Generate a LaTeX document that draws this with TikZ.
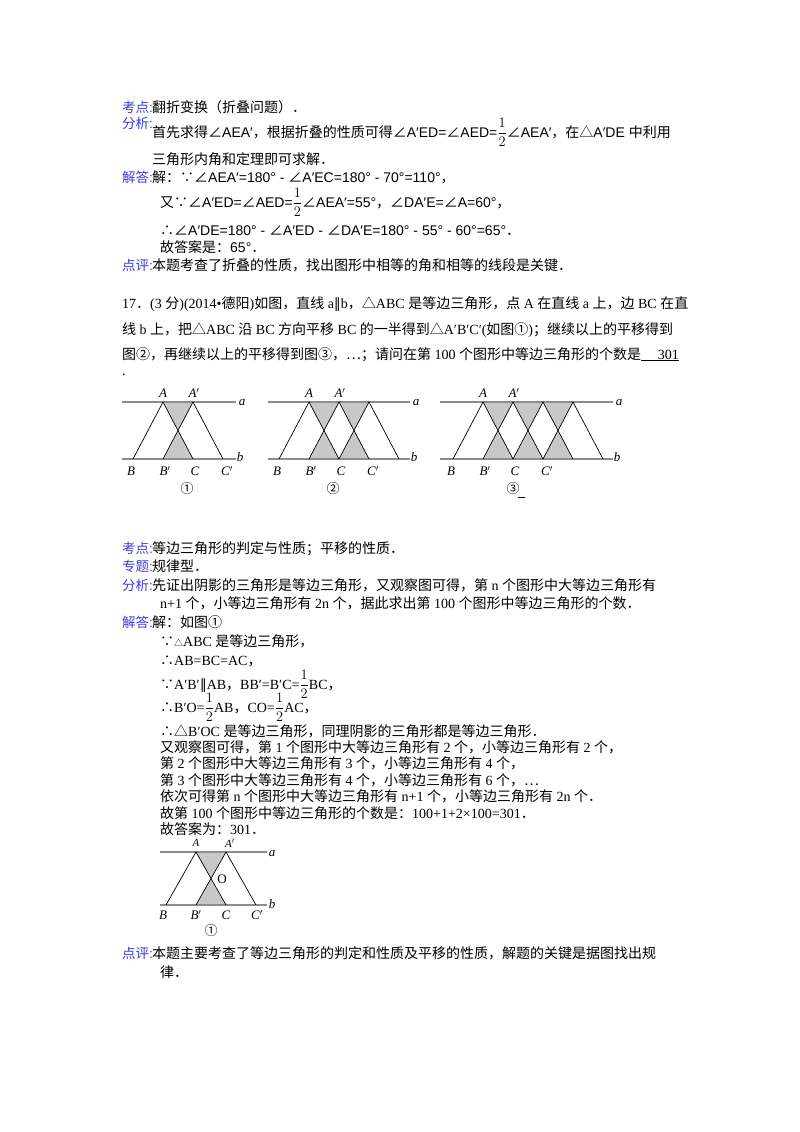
\documentclass[tikz,border=0pt]{standalone}
\usepackage{fontspec}
\setmainfont{Liberation Serif}
\newfontfamily\sa{Liberation Sans}
\newfontfamily\djv{DejaVu Sans}
\newfontfamily\cjk{Noto Sans CJK SC}
\XeTeXinterchartokenstate=1
\newXeTeXintercharclass\cjkclass
\newcount\mycc
\def\setrange#1#2{\mycc=#1 \loop\XeTeXcharclass\mycc=\cjkclass\ifnum\mycc<#2 \advance\mycc 1 \repeat}
\setrange{"4E00}{"9FFF}
\setrange{"3000}{"303F}
\setrange{"FF00}{"FFEF}
\setrange{"2460}{"24FF}
\setrange{"2234}{"2235}
\XeTeXcharclass"2220=\cjkclass
\XeTeXcharclass"25B3=\cjkclass
\XeTeXcharclass"2026=\cjkclass
\XeTeXinterchartoks 0 \cjkclass = {\begingroup\cjk}
\XeTeXinterchartoks 4095 \cjkclass = {\begingroup\cjk}
\XeTeXinterchartoks \cjkclass 0 = {\endgroup}
\XeTeXinterchartoks \cjkclass 4095 = {\endgroup}
\newcounter{lc}
\newcommand\tx[3]{\stepcounter{lc}\node[txt] (L\arabic{lc}) at (#1,-#2) {#3};}
\newcommand\lb[3]{\stepcounter{lc}\node[txt,text=lblue,font=\fontsize{13.5}{14}\selectfont] (L\arabic{lc}) at (#1,-#2) {#3\sa:};}
\newcommand\hf{{$\displaystyle\frac{1}{2}$}}
\definecolor{lblue}{RGB}{60,60,225}
\definecolor{shd}{RGB}{200,200,200}
\definecolor{ln}{RGB}{140,140,140}
\tikzset{txt/.style={anchor=base west,inner sep=0pt,font=\fontsize{14}{18}\selectfont},
 parl/.style={ln,line width=1.6pt},
 tri/.style={black,line width=0.7pt},
 lab/.style={inner sep=0pt,font=\fontsize{13}{13}\selectfont\itshape}}
\newcommand\fig[6]{%
 \foreach \i in {1,...,#4}{
  \pgfmathsetmacro\xa{#1+30*\i}
  \fill[shd] (\xa,-#2) -- (\xa+30,-#2) -- (\xa+15,-#2/2-#3/2) -- cycle;
  \fill[shd] (\xa,-#3) -- (\xa+30,-#3) -- (\xa+15,-#2/2-#3/2) -- cycle;}
 \draw[parl] (#5,-#2) -- (#6,-#2);
 \draw[parl] (#5,-#3) -- (#6,-#3);
 \foreach \i in {0,...,#4}{
  \pgfmathsetmacro\xb{#1+30*\i}
  \draw[tri] (\xb,-#3) -- (\xb+30,-#2) -- (\xb+60,-#3);}
}
\begin{document}
\begin{tikzpicture}[x=1pt,y=1pt]
\useasboundingbox (0,0) rectangle (800,-1132);
\fill[white] (0,0) rectangle (800,-1132);
% part 1
{\sa
\lb{122}{112}{考点}\tx{152}{112}{翻折变换（折叠问题）．}
\lb{122}{128}{分析}\tx{152}{137}{首先求得∠AEA′，根据折叠的性质可得∠A′ED=∠AED=\hf∠AEA′，在△A′DE 中利用}
\tx{152}{164}{三角形内角和定理即可求解．}
\lb{122}{182}{解答}\tx{152}{182}{解：∵∠AEA′=180° - ∠A′EC=180° - 70°=110°，}
\tx{160}{207}{又∵∠A′ED=∠AED=\hf∠AEA′=55°，∠DA′E=∠A=60°，}
\tx{160}{235}{∴∠A′DE=180° - ∠A′ED - ∠DA′E=180° - 55° - 60°=65°．}
\tx{160}{252}{故答案是：65°．}
\lb{122}{270}{点评}\tx{152}{270}{本题考查了折叠的性质，找出图形中相等的角和相等的线段是关键．}
}
\tx{122}{308}{17．(3 分)(2014•德阳)如图，直线 a{\djv ∥}b，△ABC 是等边三角形，点 A 在直线 a 上，边 BC 在直}
\tx{122}{334}{线 b 上，把△ABC 沿 BC 方向平移 BC 的一半得到△A′B′C′(如图①)；继续以上的平移得到}
\tx{122}{359}{图②，再继续以上的平移得到图③，…；请问在第 100 个图形中等边三角形的个数是\underline{\hspace{1.2em}301}}
\tx{122}{375}{.}
% figures
\fig{133}{402}{459}{1}{122}{236}
\fig{279}{402}{459}{2}{268}{410}
\fig{453}{402}{459}{3}{440}{613}
\foreach \bx/\n/\cx/\ax/\cn in {133/a/187/242/①,279/b/333/416/②,453/c/513/619/③}{
 \node[lab] (A\n) at (\bx+30,-393) {A};
 \node[lab] (Ap\n) at (\bx+61,-393) {A$'$};
 \node[lab] (B\n) at (\bx-2,-471) {B};
 \node[lab] (Bp\n) at (\bx+32,-471) {B$'$};
 \node[lab] (C\n) at (\bx+62,-471) {C};
 \node[lab] (Cp\n) at (\bx+94,-471) {C$'$};
 \node[lab] (la\n) at (\ax,-403) {a};
 \node[lab] (lb\n) at (\ax-2,-457) {b};
 \node[inner sep=0pt,font=\fontsize{13}{13}\selectfont] (n\n) at (\cx,-489) {\cjk\cn};
}
\draw[black,line width=0.6pt] (518,-497) -- (525,-497);
% part 2
\lb{122}{553}{考点}\tx{152}{553}{等边三角形的判定与性质；平移的性质．}
\lb{122}{571}{专题}\tx{152}{571}{规律型．}
\lb{122}{590}{分析}\tx{152}{590}{先证出阴影的三角形是等边三角形，又观察图可得，第 n 个图形中大等边三角形有}
\tx{160}{608}{n+1 个，小等边三角形有 2n 个，据此求出第 100 个图形中等边三角形的个数．}
\lb{122}{627}{解答}\tx{152}{627}{解：如图①}
\tx{160}{646}{∵{\small△}ABC 是等边三角形，}
\tx{160}{665}{∴AB=BC=AC，}
\tx{160}{689}{∵A′B′{\djv ∥}AB，BB′=B′C=\hf BC，}
\tx{160}{712}{∴B′O=\hf AB，CO=\hf AC，}
\tx{160}{736}{∴△B′OC 是等边三角形，同理阴影的三角形都是等边三角形．}
\tx{160}{752}{又观察图可得，第 1 个图形中大等边三角形有 2 个，小等边三角形有 2 个，}
\tx{160}{768}{第 2 个图形中大等边三角形有 3 个，小等边三角形有 4 个，}
\tx{160}{785}{第 3 个图形中大等边三角形有 4 个，小等边三角形有 6 个，…}
\tx{160}{801}{依次可得第 n 个图形中大等边三角形有 n+1 个，小等边三角形有 2n 个．}
\tx{160}{818}{故第 100 个图形中等边三角形的个数是：100+1+2×100=301．}
\tx{160}{834}{故答案为：301．}
% bottom figure
\fill[shd] (196,-852) -- (226,-852) -- (211,-878.5) -- cycle;
\fill[shd] (196,-905) -- (226,-905) -- (211,-878.5) -- cycle;
\draw[parl] (160,-852) -- (267,-852);
\draw[parl] (160,-905) -- (267,-905);
\draw[tri] (166,-905) -- (196,-852) -- (226,-905);
\draw[tri] (196,-905) -- (226,-852) -- (256,-905);
\node[lab,font=\fontsize{11}{11}\selectfont\itshape] (A4) at (196,-843) {A};
\node[lab,font=\fontsize{11}{11}\selectfont\itshape] (Ap4) at (230,-843) {A$'$};
\node[lab] (B4) at (163,-915) {B};
\node[lab] (Bp4) at (196,-915) {B$'$};
\node[lab] (C4) at (226,-915) {C};
\node[lab] (Cp4) at (257,-915) {C$'$};
\node[lab] (la4) at (272,-853) {a};
\node[lab] (lb4) at (272,-904) {b};
\node[inner sep=0pt,font=\fontsize{13}{13}\selectfont] (O4) at (222,-879) {O};
\node[inner sep=0pt,font=\fontsize{13}{13}\selectfont] (n4) at (211,-931) {\cjk ①};
\lb{122}{958}{点评}\tx{152}{958}{本题主要考查了等边三角形的判定和性质及平移的性质，解题的关键是据图找出规}
\tx{160}{977}{律．}
\end{tikzpicture}
\end{document}
